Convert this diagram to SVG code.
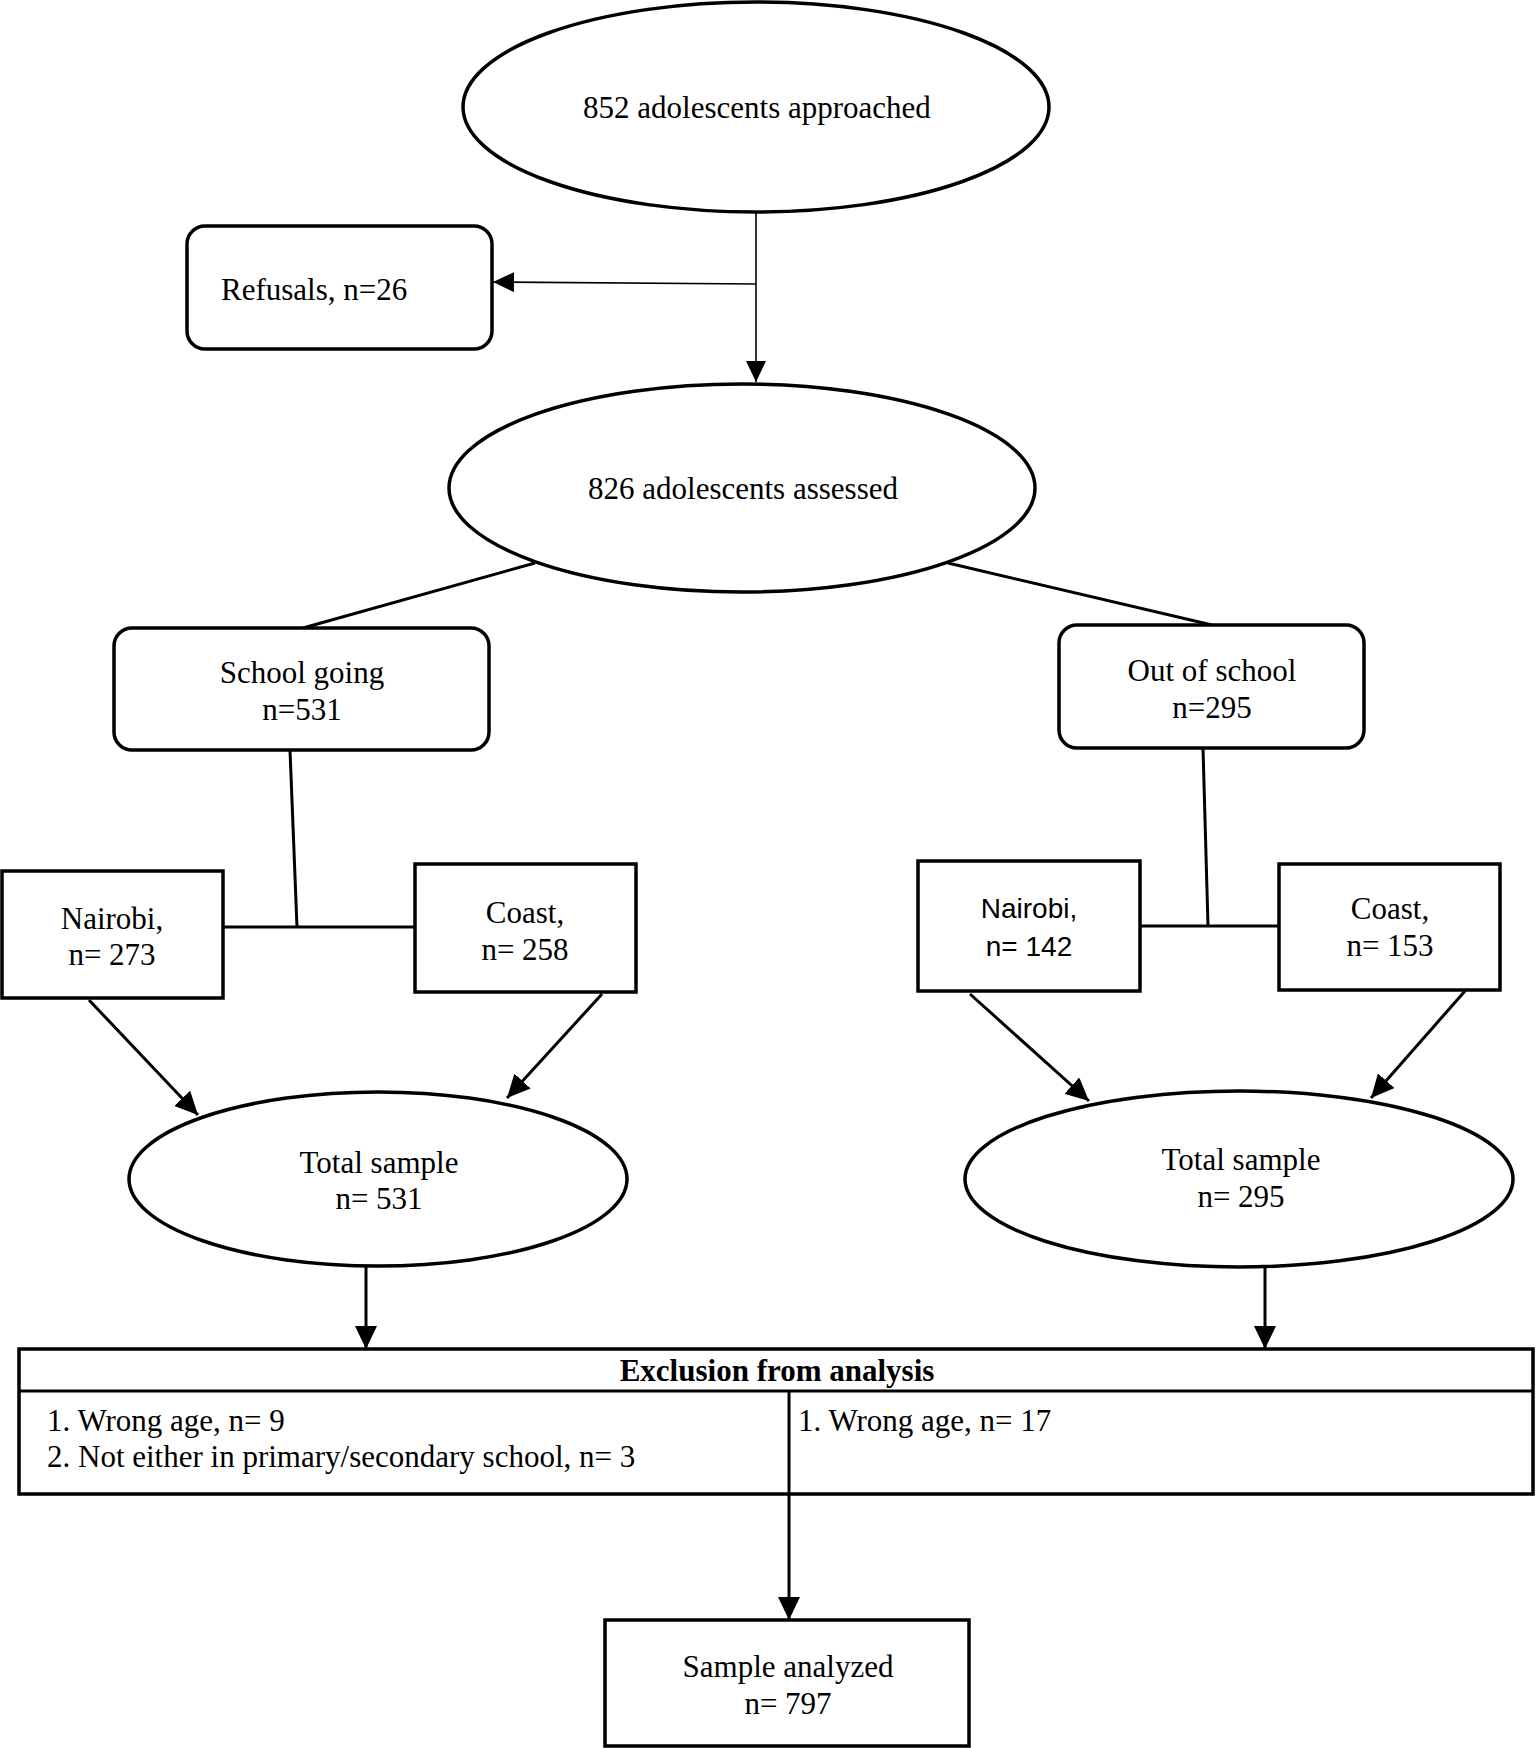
<svg xmlns="http://www.w3.org/2000/svg" width="1536" height="1748" viewBox="0 0 1536 1748">
<style>
.shape{fill:#fff;stroke:#000;stroke-width:3.5}
.t{font-family:"Liberation Serif","Times New Roman",serif;font-size:31px;fill:#000}
.ts{font-family:"Liberation Sans",Arial,sans-serif;font-size:28px;fill:#000}
.c{text-anchor:middle}
.b{font-weight:bold}
.ln{fill:none;stroke:#000;stroke-width:3}
.thin{fill:none;stroke:#000;stroke-width:1.6}
</style>
<defs>
<marker id="ah" markerUnits="userSpaceOnUse" markerWidth="24" markerHeight="22" refX="23" refY="11" orient="auto">
<path d="M0,0 L23,11 L0,22 Z" fill="#000"/>
</marker>
<marker id="ahs" markerUnits="userSpaceOnUse" markerWidth="22" markerHeight="20" refX="21" refY="10" orient="auto">
<path d="M0,0 L21,10 L0,20 Z" fill="#000"/>
</marker>
</defs>
<rect width="1536" height="1748" fill="#fff"/>
<g id="connectors">
<line class="thin" x1="756" y1="212" x2="756" y2="382" marker-end="url(#ahs)"/>
<line class="thin" x1="756" y1="284" x2="493" y2="282" marker-end="url(#ahs)"/>
<line class="ln" x1="535" y1="563" x2="303" y2="628"/>
<line class="ln" x1="948" y1="563" x2="1212" y2="625"/>
<line class="ln" x1="290" y1="750" x2="297" y2="927"/>
<line class="ln" x1="224" y1="927" x2="415" y2="927"/>
<line class="ln" x1="1203" y1="748" x2="1208" y2="926"/>
<line class="ln" x1="1140" y1="926" x2="1279" y2="926"/>
<line class="ln" x1="89" y1="1000" x2="198" y2="1115" marker-end="url(#ah)"/>
<line class="ln" x1="602" y1="994" x2="507" y2="1098" marker-end="url(#ah)"/>
<line class="ln" x1="970" y1="994" x2="1089" y2="1101" marker-end="url(#ah)"/>
<line class="ln" x1="1465" y1="991" x2="1371" y2="1098" marker-end="url(#ah)"/>
<line class="ln" x1="366" y1="1266" x2="366" y2="1349" marker-end="url(#ah)"/>
<line class="ln" x1="1265" y1="1267" x2="1265" y2="1349" marker-end="url(#ah)"/>
<line class="ln" x1="789" y1="1494" x2="789" y2="1620" marker-end="url(#ah)"/>
</g>
<g id="approached">
<ellipse class="shape" cx="756" cy="107" rx="293" ry="105"/>
<text class="t c" x="757" y="118">852 adolescents approached</text>
</g>
<g id="refusals">
<rect class="shape" x="187" y="226" width="305" height="123" rx="18"/>
<text class="t" x="221" y="300">Refusals, n=26</text>
</g>
<g id="assessed">
<ellipse class="shape" cx="742" cy="488" rx="293" ry="104"/>
<text class="t c" x="743" y="499">826 adolescents assessed</text>
</g>
<g id="school-going">
<rect class="shape" x="114" y="628" width="375" height="122" rx="18"/>
<text class="t c" x="302" y="683">School going</text>
<text class="t c" x="302" y="720">n=531</text>
</g>
<g id="out-of-school">
<rect class="shape" x="1059" y="625" width="305" height="123" rx="18"/>
<text class="t c" x="1212" y="681">Out of school</text>
<text class="t c" x="1212" y="718">n=295</text>
</g>
<g id="nairobi-school">
<rect class="shape" x="2" y="871" width="221" height="127"/>
<text class="t c" x="112" y="929">Nairobi,</text>
<text class="t c" x="112" y="965">n= 273</text>
</g>
<g id="coast-school">
<rect class="shape" x="415" y="864" width="221" height="128"/>
<text class="t c" x="525" y="923">Coast,</text>
<text class="t c" x="525" y="960">n= 258</text>
</g>
<g id="nairobi-out">
<rect class="shape" x="918" y="861" width="222" height="130"/>
<text class="ts c" x="1029" y="918">Nairobi,</text>
<text class="ts c" x="1029" y="956">n= 142</text>
</g>
<g id="coast-out">
<rect class="shape" x="1279" y="864" width="221" height="126"/>
<text class="t c" x="1390" y="919">Coast,</text>
<text class="t c" x="1390" y="956">n= 153</text>
</g>
<g id="total-school">
<ellipse class="shape" cx="378" cy="1179" rx="249" ry="87"/>
<text class="t c" x="379" y="1173">Total sample</text>
<text class="t c" x="379" y="1209">n= 531</text>
</g>
<g id="total-out">
<ellipse class="shape" cx="1239" cy="1179" rx="274" ry="88"/>
<text class="t c" x="1241" y="1170">Total sample</text>
<text class="t c" x="1241" y="1207">n= 295</text>
</g>
<g id="exclusion">
<rect class="shape" x="19" y="1349" width="1514" height="145"/>
<line class="ln" x1="19" y1="1391" x2="1533" y2="1391"/>
<line class="ln" x1="789" y1="1391" x2="789" y2="1494"/>
<text class="t c b" x="777" y="1381">Exclusion from analysis</text>
<text class="t" x="47" y="1431">1. Wrong age, n= 9</text>
<text class="t" x="47" y="1467">2. Not either in primary/secondary school, n= 3</text>
<text class="t" x="798" y="1431">1. Wrong age, n= 17</text>
</g>
<g id="analyzed">
<rect class="shape" x="605" y="1620" width="364" height="126"/>
<text class="t c" x="788" y="1677">Sample analyzed</text>
<text class="t c" x="788" y="1714">n= 797</text>
</g>
</svg>
